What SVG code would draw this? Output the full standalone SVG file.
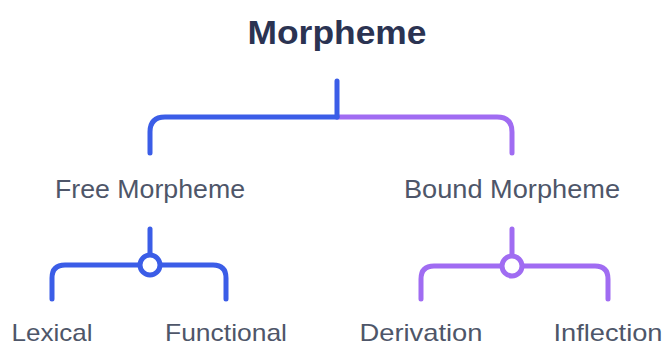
<svg xmlns="http://www.w3.org/2000/svg" width="666" height="347" viewBox="0 0 666 347">
<style>
.t{font-family:"Liberation Sans",Arial,sans-serif;font-size:25px;fill:#4e5669;text-anchor:middle}
.s{font-size:24px}
.h{font-family:"Liberation Sans",Arial,sans-serif;font-size:34px;font-weight:bold;fill:#2b3352;text-anchor:middle}
.b{stroke:#3b5de7}
.p{stroke:#a06cf2}
.c path,.c line,.c circle{fill:none;stroke-width:5;stroke-linecap:round}
</style>
<rect width="666" height="347" fill="#ffffff"/>
<g id="root"><text class="h" x="337" y="44" textLength="179" lengthAdjust="spacingAndGlyphs">Morpheme</text></g>
<g id="free"><text class="t" x="150" y="198" textLength="190" lengthAdjust="spacingAndGlyphs">Free Morpheme</text></g>
<g id="bound"><text class="t" x="512" y="198" textLength="216" lengthAdjust="spacingAndGlyphs">Bound Morpheme</text></g>
<g id="lexical"><text class="t s" x="52" y="341" textLength="81" lengthAdjust="spacingAndGlyphs">Lexical</text></g>
<g id="functional"><text class="t s" x="226" y="341" textLength="122" lengthAdjust="spacingAndGlyphs">Functional</text></g>
<g id="derivation"><text class="t s" x="421" y="341" textLength="123" lengthAdjust="spacingAndGlyphs">Derivation</text></g>
<g id="inflection"><text class="t s" x="608" y="341" textLength="109" lengthAdjust="spacingAndGlyphs">Inflection</text></g>
<g id="connectors" class="c">
<path class="p" d="M337 117 H497 Q512 117 512 132 V153"/>
<path class="b" d="M337 117 H165 Q150 117 150 132 V153"/>
<line class="b" x1="337" y1="81" x2="337" y2="117"/>
<line class="b" x1="150" y1="229" x2="150" y2="255"/>
<path class="b" d="M52 299 V278 Q52 265 65 265 H213 Q226 265 226 278 V299"/>
<circle class="b" cx="150" cy="265" r="10" style="fill:#ffffff"/>
<line class="p" x1="512" y1="229" x2="512" y2="256"/>
<path class="p" d="M421 299 V279 Q421 266 434 266 H595 Q608 266 608 279 V299"/>
<circle class="p" cx="512" cy="266" r="10" style="fill:#ffffff"/>
</g>
</svg>
